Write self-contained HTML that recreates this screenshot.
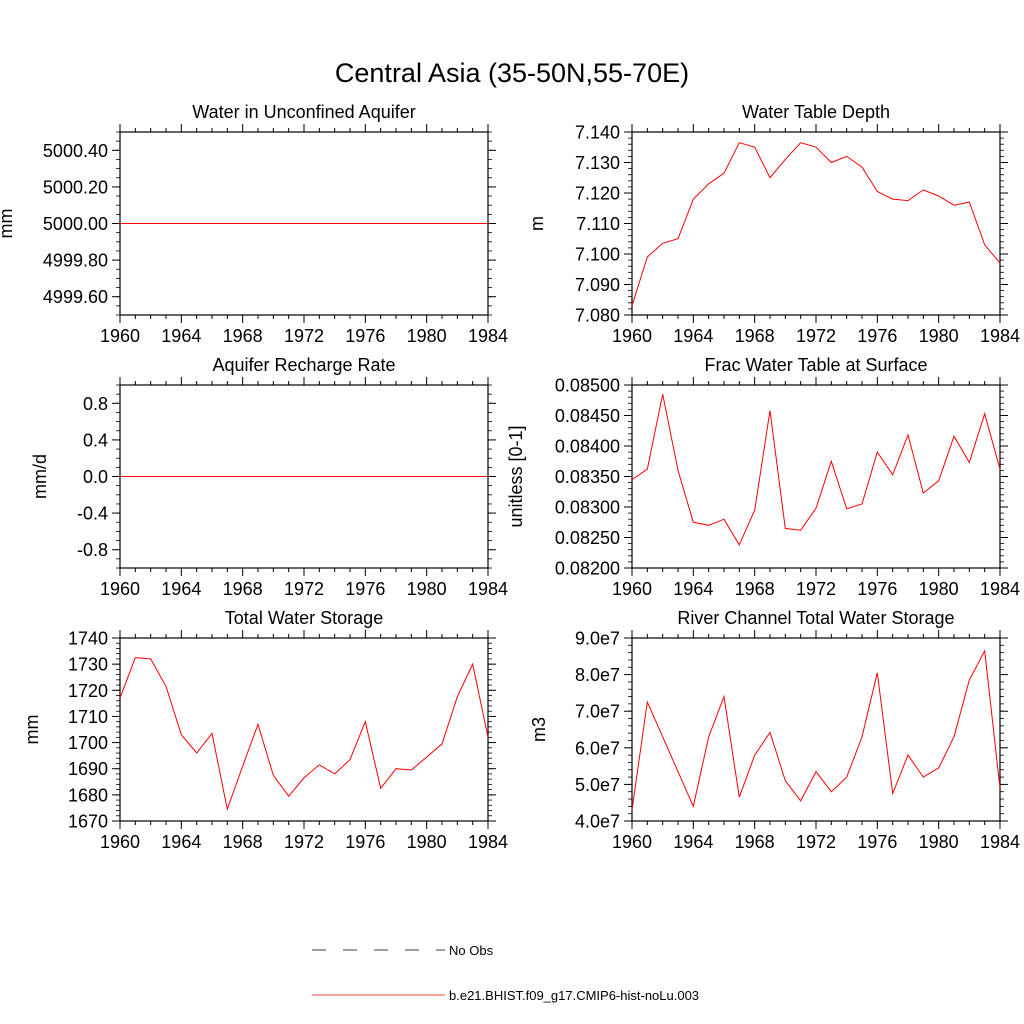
<!DOCTYPE html>
<html><head><meta charset="utf-8"><style>
html,body{margin:0;padding:0;background:#fff;}
svg{display:block;font-family:"Liberation Sans",Arial,sans-serif;}
</style></head><body>
<svg id="fig" width="1024" height="1024" viewBox="0 0 1024 1024" xmlns="http://www.w3.org/2000/svg">
<text x="512" y="82" font-size="27" text-anchor="middle">Central Asia (35-50N,55-70E)</text>
<g>
<line x1="312" y1="950" x2="445" y2="950" stroke="#000" stroke-width="0.8" stroke-dasharray="14,17"/>
<text x="449" y="955" font-size="13">No Obs</text>
<line x1="312" y1="995" x2="445" y2="995" stroke="#f00" stroke-width="0.8"/>
<text x="449" y="1000" font-size="13">b.e21.BHIST.f09_g17.CMIP6-hist-noLu.003</text>
</g>
</svg>
<script>
const years = [1960,1961,1962,1963,1964,1965,1966,1967,1968,1969,1970,1971,1972,1973,1974,1975,1976,1977,1978,1979,1980,1981,1982,1983,1984];
const xTicks = [1960,1964,1968,1972,1976,1980,1984];
const aquiferValues = years.map(()=>5000.0);
const rechargeValues = years.map(()=>0.0);
const wtdValues = [7.083,7.099,7.1035,7.105,7.118,7.123,7.1265,7.1365,7.135,7.125,7.131,7.1365,7.135,7.130,7.132,7.1285,7.1205,7.118,7.1175,7.121,7.119,7.116,7.117,7.103,7.097];
const fracValues = [0.08345,0.08362,0.08485,0.08360,0.08275,0.08270,0.08280,0.08238,0.08295,0.08458,0.08265,0.08262,0.08298,0.08375,0.08297,0.08305,0.08390,0.08353,0.08418,0.08323,0.08343,0.08416,0.08373,0.08453,0.08362];
const twsValues = [1717,1732.5,1732,1721.5,1703,1696,1703.5,1674.5,1691,1707,1687.5,1679.5,1686.5,1691.5,1688,1693.5,1708,1682.5,1690,1689.5,1694.5,1699.5,1717.5,1730,1702];
const riverValues = [4.3e7,7.25e7,6.3e7,5.35e7,4.4e7,6.3e7,7.4e7,4.65e7,5.8e7,6.42e7,5.1e7,4.55e7,5.35e7,4.8e7,5.2e7,6.3e7,8.05e7,4.75e7,5.8e7,5.2e7,5.45e7,6.3e7,7.85e7,8.65e7,4.9e7];
const aquiferTicks = ["4999.60","4999.80","5000.00","5000.20","5000.40"];
const rechargeTicks = ["-0.8","-0.4","0.0","0.4","0.8"];
const wtdTicks = ["7.080","7.090","7.100","7.110","7.120","7.130","7.140"];
const fracTicks = ["0.08200","0.08250","0.08300","0.08350","0.08400","0.08450","0.08500"];
const twsTicks = ["1670","1680","1690","1700","1710","1720","1730","1740"];
const riverTicks = ["4.0e7","5.0e7","6.0e7","7.0e7","8.0e7","9.0e7"];

const NS="http://www.w3.org/2000/svg";
const svg=document.getElementById('fig');
function mk(tag,attrs,parent){const e=document.createElementNS(NS,tag);for(const k in attrs)e.setAttribute(k,attrs[k]);parent.appendChild(e);return e;}

const panels=[
 {key:'aquifer',title:'Water in Unconfined Aquifer',ylab:'mm',x0:120,y0:132,vals:aquiferValues,ymin:4999.5,ymax:5000.5,ticks:aquiferTicks,minor:0.05,labx:12},
 {key:'wtd',title:'Water Table Depth',ylab:'m',x0:632,y0:132,vals:wtdValues,ymin:7.08,ymax:7.14,ticks:wtdTicks,minor:0.002,labx:543},
 {key:'recharge',title:'Aquifer Recharge Rate',ylab:'mm/d',x0:120,y0:385,vals:rechargeValues,ymin:-1,ymax:1,ticks:rechargeTicks,minor:0.1,labx:46},
 {key:'frac',title:'Frac Water Table at Surface',ylab:'unitless [0-1]',x0:632,y0:385,vals:fracValues,ymin:0.082,ymax:0.085,ticks:fracTicks,minor:0.0001,labx:522},
 {key:'tws',title:'Total Water Storage',ylab:'mm',x0:120,y0:638,vals:twsValues,ymin:1670,ymax:1740,ticks:twsTicks,minor:2,labx:38},
 {key:'river',title:'River Channel Total Water Storage',ylab:'m3',x0:632,y0:638,vals:riverValues,ymin:4e7,ymax:9e7,ticks:riverTicks,minor:2e6,labx:545}
];
const W=368,H=183;
panels.forEach(p=>{
 const g=mk('g',{},svg);
 
 
 const xs=v=>p.x0+(v-1960)/(1984-1960)*W;
 const ys=v=>p.y0+H-(v-p.ymin)/(p.ymax-p.ymin)*H;
 const t=mk('text',{x:p.x0+W/2,y:p.y0-14,'font-size':18,'text-anchor':'middle'},g);
 t.textContent=p.title;
 
 
 const yl=mk('text',{x:p.labx,y:p.y0+H/2,'font-size':18,'text-anchor':'middle',transform:`rotate(-90 ${p.labx} ${p.y0+H/2})`},g);
 yl.textContent=p.ylab;
 
 
 // x ticks
 for(let yr=1960;yr<=1984;yr++){
  const x=xs(yr);const maj=(yr-1960)%4===0;const L=maj?8:4;
  mk('line',{x1:x,y1:p.y0+H,x2:x,y2:p.y0+H+L,stroke:'#000','stroke-width':1},g);
  mk('line',{x1:x,y1:p.y0,x2:x,y2:p.y0-L,stroke:'#000','stroke-width':1},g);
 }
 xTicks.forEach(yr=>{
  const tx=mk('text',{x:xs(yr),y:p.y0+H+27,'font-size':18,'text-anchor':'middle'},g);
  tx.textContent=yr;
  
  
 });
 // y minor ticks
 const n=Math.round((p.ymax-p.ymin)/p.minor);
 for(let i=0;i<=n;i++){
  const y=ys(p.ymin+i*p.minor);
  mk('line',{x1:p.x0,y1:y,x2:p.x0-4,y2:y,stroke:'#000','stroke-width':0.8},g);
  mk('line',{x1:p.x0+W,y1:y,x2:p.x0+W+4,y2:y,stroke:'#000','stroke-width':0.8},g);
 }
 p.ticks.forEach(lbl=>{
  const v=parseFloat(lbl);const y=ys(v);
  mk('line',{x1:p.x0,y1:y,x2:p.x0-8,y2:y,stroke:'#000','stroke-width':1},g);
  mk('line',{x1:p.x0+W,y1:y,x2:p.x0+W+8,y2:y,stroke:'#000','stroke-width':1},g);
  const ty=mk('text',{x:p.x0-12,y:y+6.5,'font-size':18,'text-anchor':'end'},g);
  ty.textContent=lbl;
  
  
 });
 const fr=mk('rect',{x:p.x0,y:p.y0,width:W,height:H,fill:'none',stroke:'#000','stroke-width':1.2},g);
 
 
 const pts=p.vals.map((v,i)=>xs(years[i]).toFixed(1)+','+ys(v).toFixed(1)).join(' ');
 const pl=mk('polyline',{points:pts,fill:'none',stroke:'#f00','stroke-width':1},g);
 
 
});
</script>
</body></html>
